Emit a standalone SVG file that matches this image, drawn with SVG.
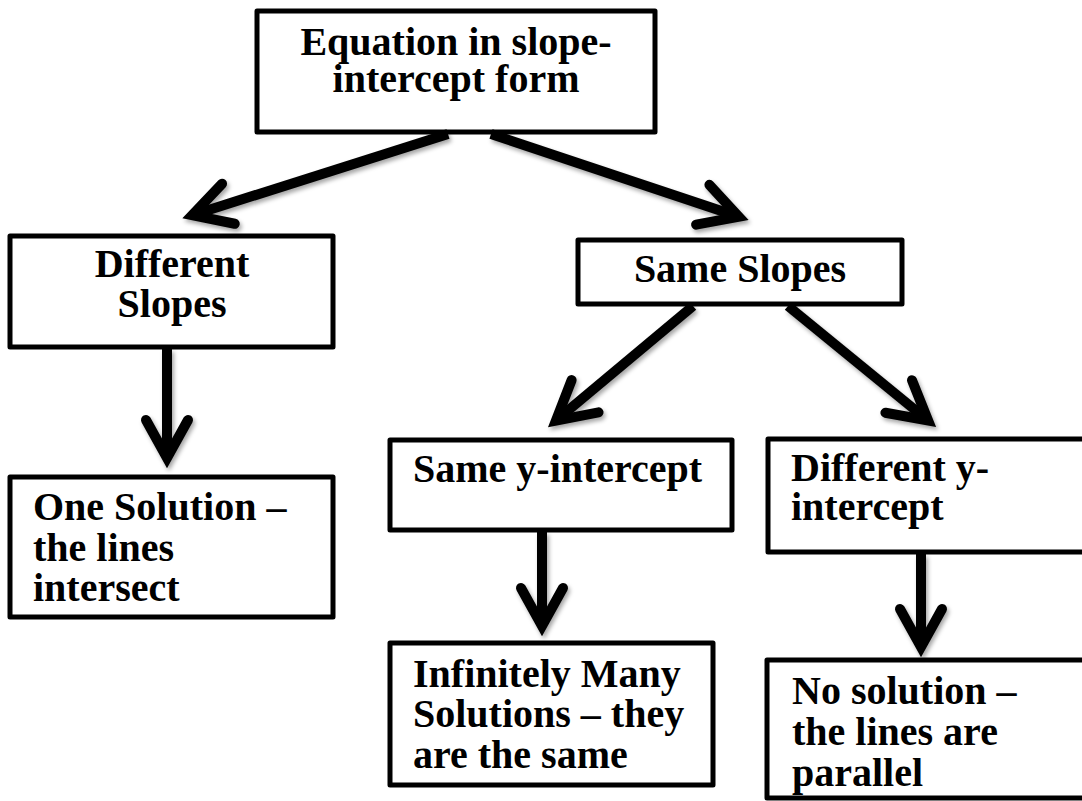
<svg xmlns="http://www.w3.org/2000/svg" width="1082" height="801" viewBox="0 0 1082 801">
<style>
.box{fill:#fff;stroke:#000;stroke-width:5;stroke-linejoin:round}
.t{font-family:"Liberation Serif","Times New Roman",serif;font-weight:bold;font-size:40px;fill:#000}
.c{text-anchor:middle}
.conn{fill:none;stroke:#000;stroke-width:10;marker-end:url(#ah)}
</style>
<defs>
<filter id="sh" filterUnits="userSpaceOnUse" x="0" y="0" width="1082" height="801">
<feDropShadow dx="2" dy="3" stdDeviation="2" flood-color="#000" flood-opacity="0.35"/>
</filter>
<marker id="ah" markerUnits="userSpaceOnUse" orient="auto" refX="-4" refY="0" markerWidth="80" markerHeight="80" overflow="visible">
<path d="M-38,-21 L0,0 L-38,21" fill="none" stroke="#000" stroke-width="10" stroke-linecap="round" stroke-linejoin="miter"/>
</marker>
</defs>
<rect width="1082" height="801" fill="#fff"/>
<g id="n-top">
<rect class="box" x="257" y="11" width="398" height="121"/>
<text class="t c" x="456" y="55">Equation in slope-</text>
<text class="t c" x="456" y="92">intercept form</text>
</g>
<g id="n-diff-slopes">
<rect class="box" x="10" y="236" width="323" height="111"/>
<text class="t c" x="172" y="277">Different</text>
<text class="t c" x="172" y="317">Slopes</text>
</g>
<g id="n-same-slopes">
<rect class="box" x="578" y="240" width="324" height="64"/>
<text class="t c" x="740" y="282">Same Slopes</text>
</g>
<g id="n-one-solution">
<rect class="box" x="10" y="477" width="323" height="140"/>
<text class="t" x="33" y="520">One Solution –</text>
<text class="t" x="33" y="561">the lines</text>
<text class="t" x="33" y="601">intersect</text>
</g>
<g id="n-same-yint">
<rect class="box" x="390" y="440" width="342" height="90"/>
<text class="t" x="413" y="482">Same y-intercept</text>
</g>
<g id="n-diff-yint">
<rect class="box" x="768" y="439" width="330" height="113"/>
<text class="t" x="791" y="481">Different y-</text>
<text class="t" x="791" y="520">intercept</text>
</g>
<g id="n-infinite">
<rect class="box" x="390" y="643" width="323" height="142"/>
<text class="t" x="413" y="687">Infinitely Many</text>
<text class="t" x="413" y="727">Solutions – they</text>
<text class="t" x="413" y="768">are the same</text>
</g>
<g id="n-no-solution">
<rect class="box" x="767" y="660" width="330" height="138"/>
<text class="t" x="792" y="704">No solution –</text>
<text class="t" x="792" y="745">the lines are</text>
<text class="t" x="792" y="786">parallel</text>
</g>
<g id="connectors" filter="url(#sh)">
<line class="conn" x1="448" y1="134" x2="196" y2="214"/>
<line class="conn" x1="491" y1="134" x2="735" y2="215.5"/>
<line class="conn" x1="693" y1="306" x2="559" y2="418"/>
<line class="conn" x1="788" y1="306" x2="925" y2="418"/>
<line class="conn" x1="167" y1="349" x2="167" y2="454"/>
<line class="conn" x1="542" y1="532" x2="542" y2="622"/>
<line class="conn" x1="921" y1="554" x2="921" y2="643"/>
</g>
</svg>
